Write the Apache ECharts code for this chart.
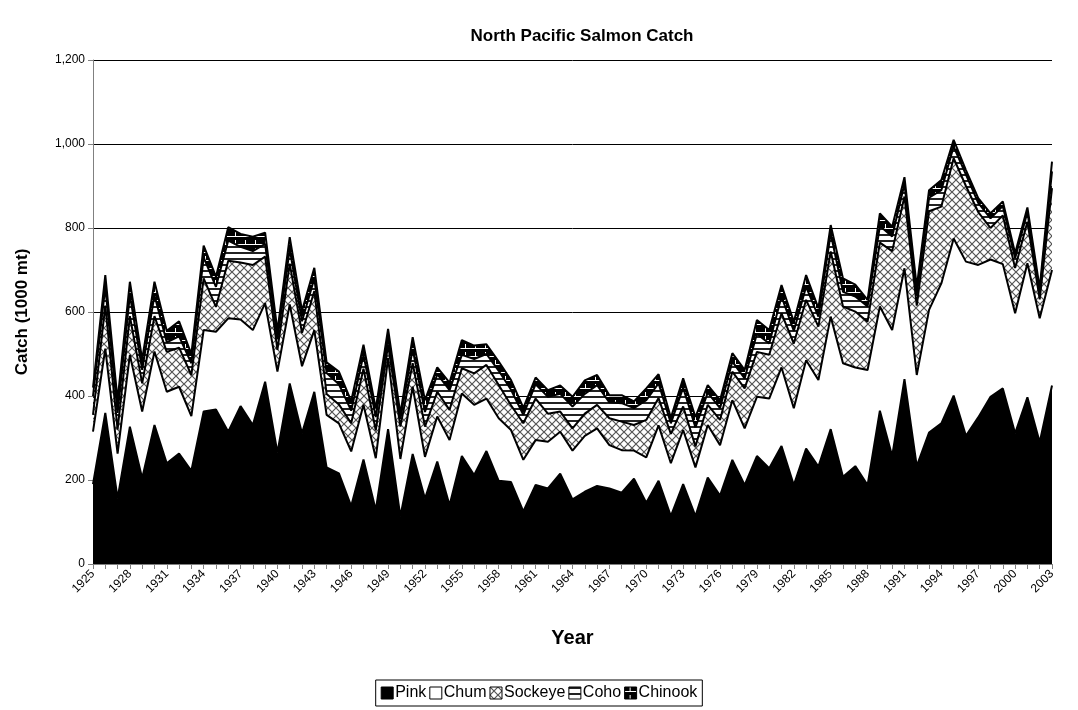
<!DOCTYPE html>
<html><head><meta charset="utf-8">
<script src="https://cdn.jsdelivr.net/npm/echarts@6/dist/echarts.min.js"></script>
<style>html,body{margin:0;padding:0;background:#fff}#c{width:1078px;height:710px}</style>
</head><body><div id="c"></div>
<script>
const years = ['1925','1926','1927','1928','1929','1930','1931','1932','1933','1934','1935','1936','1937','1938','1939','1940','1941','1942','1943','1944','1945','1946','1947','1948','1949','1950','1951','1952','1953','1954','1955','1956','1957','1958','1959','1960','1961','1962','1963','1964','1965','1966','1967','1968','1969','1970','1971','1972','1973','1974','1975','1976','1977','1978','1979','1980','1981','1982','1983','1984','1985','1986','1987','1988','1989','1990','1991','1992','1993','1994','1995','1996','1997','1998','1999','2000','2001','2002','2003'];
const pink = [190,360,156,327,204,331,240,263,222,363, 368,315,376,331,434,265,430,311,410,230, 216,138,249,128,321,113,262,156,244,140, 257,212,269,198,195,125,188,180,215,154, 172,186,180,170,203,146,198,114,190,114, 206,163,248,188,257,228,281,188,275,232, 321,208,233,188,365,257,440,233,313,335, 401,305,349,398,418,311,397,290,425];
const chum = [125,153,107,171,159,175,170,159,130,194, 185,270,206,226,187,193,188,160,147,125, 119,130,130,124,169,137,160,99,107,155, 149,167,125,149,124,123,107,111,100,116, 133,137,103,101,67,108,132,126,129,116, 125,120,142,135,141,166,187,183,210,206, 268,270,235,274,248,300,264,217,292,333, 374,415,363,327,296,286,319,295,275];
const sockeye = [40,102,57,92,67,84,95,93,98,123, 59,137,136,155,111,52,97,79,93,50, 45,67,86,66,32,77,56,72,59,72, 60,75,80,79,59,87,99,67,48,53, 53,56,64,68,61,89,65,70,56,50, 48,60,68,95,107,104,129,154,144,127, 155,135,133,115,152,188,171,165,235,183, 191,180,126,75,116,108,99,45,195];
const coho = [45,45,40,50,32,50,23,27,28,50, 48,48,37,33,30,25,35,28,30,50, 48,30,33,32,18,18,34,35,42,47, 32,34,26,34,37,20,34,40,42,52, 47,47,38,44,40,47,35,25,45,45, 29,28,24,24,43,27,40,30,31,24, 43,35,36,36,40,35,30,25,32,39, 28,27,22,23,22,23,23,15,40];
const chinook = [20,28,30,32,25,32,27,36,22,28, 24,32,31,34,27,20,28,25,25,25, 30,23,24,20,20,13,28,28,16,18, 35,32,23,22,23,17,16,16,20,23, 32,24,17,19,16,28,22,13,22,25, 18,19,20,20,33,32,27,22,28,20, 20,32,28,16,30,23,16,20,18,24, 16,11,11,12,11,12,11,12,23];
const seriesNames = ['Pink','Chum','Sockeye','Coho','Chinook'];
const yTicks = [0,200,400,600,800,1000,1200];

function tile(w,h,draw){const c=document.createElement('canvas');c.width=w;c.height=h;const g=c.getContext('2d');draw(g,w,h);return {image:c,repeat:'repeat'};}
const patPink = '#000000';
const patChum = '#ffffff';
const patSock = tile(8,8,(g,w,h)=>{g.fillStyle='#fff';g.fillRect(0,0,w,h);g.strokeStyle='#555';g.lineWidth=1.2;
  g.beginPath();g.moveTo(0,0);g.lineTo(w,h);g.moveTo(w,0);g.lineTo(0,h);g.stroke();});
const patCoho = tile(6,6,(g,w,h)=>{g.fillStyle='#fff';g.fillRect(0,0,w,h);g.fillStyle='#222';g.fillRect(0,0,w,2);});
const patChin = tile(10,8,(g,w,h)=>{g.fillStyle='#000';g.fillRect(0,0,w,h);g.fillStyle='#fff';g.fillRect(0,4,w,1);g.fillRect(5,0,1,4);});
const fills = [patPink,patChum,patSock,patCoho,patChin];
const dataSets = [pink,chum,sockeye,coho,chinook];

const chart = echarts.init(document.getElementById('c'),null,{renderer:'canvas'});
const font = 'Liberation Sans, Arial, sans-serif';
chart.setOption({
  animation:false,
  backgroundColor:'#fff',
  textStyle:{fontFamily:font,color:'#000'},
  title:{text:'North Pacific Salmon Catch',left:577,top:23,textAlign:'center',
    textStyle:{fontFamily:font,fontSize:17,fontWeight:'bold',color:'#000'}},
  grid:{left:93,right:26,top:60,bottom:146,containLabel:false},
  legend:{bottom:4,left:'center',icon:'rect',itemWidth:12,itemHeight:12,itemGap:3,
    borderColor:'#000',borderWidth:1,padding:[5,5],
    textStyle:{fontFamily:font,fontSize:16,color:'#000',padding:[0,0,0,-3]},
    data:seriesNames.map((n,i)=>({name:n,itemStyle:{color:fills[i],borderColor:'#000',borderWidth:1}}))},
  xAxis:{type:'category',data:years,boundaryGap:false,
    name:'Year',nameLocation:'middle',nameGap:64,
    nameTextStyle:{fontFamily:font,fontSize:20,fontWeight:'bold',color:'#000'},
    axisLine:{lineStyle:{color:'#808080',width:1}},
    axisTick:{show:true,interval:0,length:5,lineStyle:{color:'#808080'}},
    axisLabel:{interval:2,rotate:45,fontSize:12,color:'#000',fontFamily:font,margin:8},
    splitLine:{show:false}},
  yAxis:{type:'value',min:0,max:1200,interval:200,
    name:'Catch (1000 mt)',nameLocation:'middle',nameGap:62,nameRotate:90,
    nameTextStyle:{fontFamily:font,fontSize:17,fontWeight:'bold',color:'#000'},
    axisLine:{show:true,lineStyle:{color:'#808080',width:1}},
    axisTick:{show:true,length:5,lineStyle:{color:'#808080'}},
    axisLabel:{fontSize:12,color:'#000',fontFamily:font,margin:8,
      formatter:v=>yTicks.includes(v)?v.toLocaleString('en-US'):''},
    splitLine:{show:true,lineStyle:{color:'#000',width:1}}},
  series:seriesNames.map((n,i)=>({
    name:n,type:'line',stack:'total',data:dataSets[i],symbol:'none',showSymbol:false,
    lineStyle:{color:'#000',width:2},
    itemStyle:{color:fills[i],borderColor:'#000',borderWidth:1},
    areaStyle:{color:fills[i],opacity:1},
    z:2
  }))
});
</script></body></html>
